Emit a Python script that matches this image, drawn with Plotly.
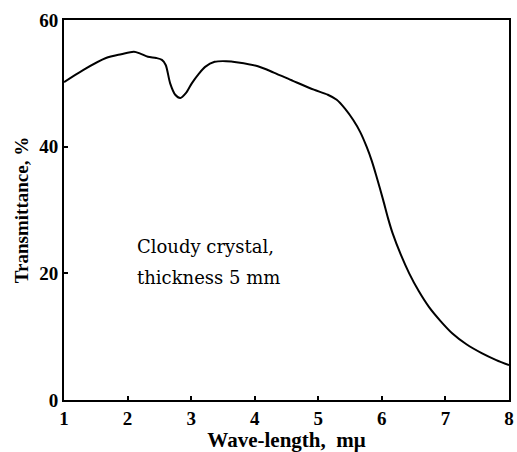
import plotly.graph_objects as go

wavelength = [1.0, 1.3, 1.66, 1.9, 2.1, 2.2, 2.32, 2.45, 2.54, 2.6, 2.67, 2.75, 2.83, 2.92, 3.01, 3.12, 3.22, 3.37, 3.55, 3.74, 4.05, 4.3, 4.6, 4.93, 5.15, 5.29, 5.42, 5.55, 5.66, 5.76, 5.84, 5.91, 6.02, 6.1, 6.17, 6.3, 6.43, 6.58, 6.74, 6.92, 7.11, 7.33, 7.57, 7.8, 8.0]
transmittance = [50.2, 52.1, 54.0, 54.6, 55.0, 54.7, 54.2, 54.0, 53.7, 52.9, 50.0, 48.2, 47.7, 48.5, 50.0, 51.5, 52.6, 53.4, 53.5, 53.3, 52.7, 51.7, 50.4, 49.0, 48.2, 47.4, 46.0, 44.2, 42.3, 40.0, 37.8, 35.5, 31.6, 28.6, 26.3, 22.9, 20.0, 17.2, 14.7, 12.5, 10.5, 8.8, 7.4, 6.3, 5.5]

x_ticks = [1, 2, 3, 4, 5, 6, 7, 8]
y_ticks = [0, 20, 40, 60]
note_lines = ["Cloudy crystal,", "thickness 5 mm"]
note_y = [24.3, 19.4]

serif = "Liberation Serif"
dserif = "DejaVu Serif"

fig = go.Figure()
fig.add_trace(go.Scatter(
    x=wavelength, y=transmittance, mode="lines",
    line=dict(color="black", width=2, shape="spline", smoothing=0.8),
    showlegend=False, hoverinfo="skip",
))

for txt, yv in zip(note_lines, note_y):
    fig.add_annotation(
        x=2.12, y=yv, xref="x", yref="y", xanchor="left", yanchor="middle",
        text=txt, showarrow=False, align="left",
        font=dict(family=dserif, size=18, color="black"),
    )

axis_common = dict(
    showgrid=False, zeroline=False, showline=True, linecolor="black", linewidth=2,
    mirror=True, ticks="inside", ticklen=4, tickwidth=1.5, tickcolor="black",
    tickfont=dict(family=serif, size=19, color="black"),
)

fig.update_layout(
    width=517, height=452,
    margin=dict(l=64, r=3, t=20, b=52),
    paper_bgcolor="white", plot_bgcolor="white",
    xaxis=dict(range=[1, 8], tickvals=x_ticks, ticktext=[f"<b>{v}</b>" for v in x_ticks],
               title=dict(text="<b>Wave-length,  mμ</b>", standoff=3,
                          font=dict(family=serif, size=21, color="black")),
               **axis_common),
    yaxis=dict(range=[0, 60], tickvals=y_ticks, ticktext=[f"<b>{v}</b>" for v in y_ticks],
               title=dict(text="<b>Transmittance, %</b>", standoff=6,
                          font=dict(family=serif, size=19, color="black")),
               **axis_common),
)
fig.write_html("out.html")
